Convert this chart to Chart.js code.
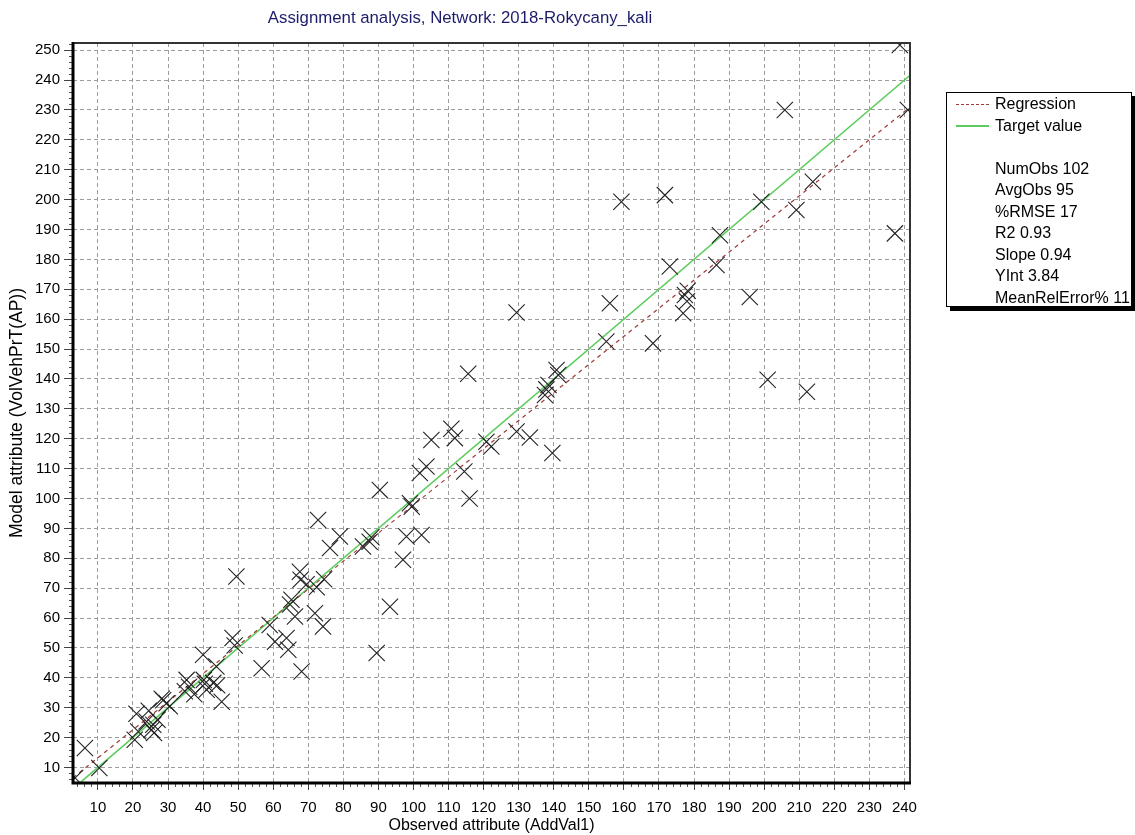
<!DOCTYPE html>
<html>
<head>
<meta charset="utf-8">
<script src="https://cdn.jsdelivr.net/npm/chart.js@4.4.1/dist/chart.umd.min.js"></script>
<style>
  html, body { margin: 0; padding: 0; background: #fff; }
  #wrap { position: relative; width: 1135px; height: 835px; overflow: hidden; }
  #c { position: absolute; left: 0; top: 0; }
  #legend {
    position: absolute; left: 946px; top: 92px; width: 186px; height: 215px;
    border: 1px solid #000; box-shadow: 4px 4px 0 #000; background: #fff;
    font-family: "Liberation Sans", Arial, sans-serif; font-size: 16px; color: #000;
    box-sizing: border-box;
  }
  #legend .row { height: 21.5px; line-height: 21.5px; white-space: nowrap; position: relative; padding-left: 48px; }
  #legend .sample { position: absolute; left: 9px; top: 11px; width: 33px; height: 0; }
  #legend .dash { border-top: 1.5px dashed #a03a3a; }
  #legend .solid { border-top: 2px solid #5ccc5c; top: 10px; }
</style>
</head>
<body>
<div id="wrap">
  <canvas id="c" width="1135" height="835"></canvas>
  <div id="legend"></div>
</div>
<script>
// ---- data ----
const observed = [3.5, 6.3, 10.4, 20.5, 21, 21.5, 23.9, 24.5, 25.3, 25.8, 26, 27, 28.2, 28.6, 29.6, 30.5,
  34.8, 35.3, 36, 37.5, 40, 40.2, 40.5, 41, 42.9, 43.8, 44, 45.3, 48.4, 49, 49.5, 56.7, 59, 60.5, 63.8, 64.3,
  68.1, 66.2, 65.2, 64.8, 67.6, 67.8, 69.5, 71.9, 72.4, 74.5, 74.2, 72.8, 79, 76.2, 85.6, 87.5, 88, 89.5, 93.3,
  97, 98, 102.3, 99, 99.5, 90.4, 101.8, 103.7, 105.1, 110.8, 111.8, 114.5, 116, 115.6, 120.8, 122.2, 129.4, 129.4,
  133.2, 139.6, 137.5, 137.9, 138.5, 140.8, 141.3, 155, 156, 159.3, 168.3, 171.7, 173.1, 176.9, 177.4, 178.2,
  186.4, 187.4, 195.9, 199.2, 201, 205.9, 209.2, 212.2, 213.9, 237.3, 238.7, 241, 178];
const modeled = [6.5, 16.5, 9.8, 19.3, 28, 22, 25.4, 29, 22.6, 24.3, 21.5, 26, 33, 32.5, 31.5, 30.5,
  35.5, 39.3, 37, 34.5, 47.7, 39.3, 38, 36, 38.3, 43.8, 37.5, 32, 53.3, 50.8, 73.9, 43.2, 57.7, 52.1, 53.3, 49.4,
  42.1, 60.5, 66.1, 64.5, 75.5, 72.8, 71.3, 61.6, 70.3, 73, 57.2, 92.8, 87.3, 83.4, 83.9, 85.5, 87, 48.3, 63.8,
  79.5, 87.3, 87.8, 98.4, 97.2, 102.8, 108.5, 110.7, 119.6, 123.3, 120.2, 109, 100, 141.7, 119, 117.4, 122.4, 162.2,
  120.4, 115.2, 134.6, 136.5, 138, 143, 141.3, 152.5, 165.3, 199.3, 151.9, 201.5, 177.6, 162, 168.1, 169.5,
  178.1, 188.1, 167.4, 199.3, 139.7, 230, 196.5, 135.7, 206, 188.7, 251.7, 230, 166];
const xTickValues = [10, 20, 30, 40, 50, 60, 70, 80, 90, 100, 110, 120, 130, 140, 150, 160, 170, 180, 190, 200, 210, 220, 230, 240];
const yTickValues = [10, 20, 30, 40, 50, 60, 70, 80, 90, 100, 110, 120, 130, 140, 150, 160, 170, 180, 190, 200, 210, 220, 230, 240, 250];
const xRange = [2.9, 241.6];
const yRange = [4.8, 252.4];
const regSlope = 0.94;
const regIntercept = 3.84;
const legendSeries = ['Regression', 'Target value'];
const statNames = ['NumObs', 'AvgObs', '%RMSE', 'R2', 'Slope', 'YInt', 'MeanRelError%'];
const statValues = ['102', '95', '17', '0.93', '0.94', '3.84', '11'];
const chartTitle = 'Assignment analysis, Network: 2018-Rokycany_kali';
const xTitle = 'Observed attribute (AddVal1)';
const yTitle = 'Model attribute (VolVehPrT(AP))';

// ---- legend box (HTML text) ----
const FONT = '"Liberation Sans", Arial, sans-serif';
const lg = document.getElementById('legend');
let html = '';
html += '<div class="row"><span class="sample dash"></span>' + legendSeries[0] + '</div>';
html += '<div class="row"><span class="sample solid"></span>' + legendSeries[1] + '</div>';
html += '<div class="row"></div>';
statNames.forEach((n, i) => { html += '<div class="row">' + n + ' ' + statValues[i] + '</div>'; });
lg.innerHTML = html;

// ---- datasets ----
const points = observed.map((x, i) => ({ x: x, y: modeled[i] }));
const targetLine = [{ x: xRange[0], y: xRange[0] }, { x: xRange[1], y: xRange[1] }];
const regLine = [
  { x: xRange[0], y: regSlope * xRange[0] + regIntercept },
  { x: xRange[1], y: regSlope * xRange[1] + regIntercept }
];

const framePlugin = {
  id: 'frame',
  afterDraw(chart) {
    const { ctx, chartArea: a, scales } = chart;
    ctx.save();
    // minor ticks
    ctx.strokeStyle = '#555';
    ctx.lineWidth = 1;
    ctx.beginPath();
    for (let v = 4; v <= xRange[1]; v += 2) {
      if (v % 10 === 0) continue;
      const px = Math.round(scales.x.getPixelForValue(v)) + 0.5;
      ctx.moveTo(px, a.bottom); ctx.lineTo(px, a.bottom + 4);
    }
    for (let v = 6; v <= yRange[1]; v += 2) {
      if (v % 10 === 0) continue;
      const py = Math.round(scales.y.getPixelForValue(v)) + 0.5;
      ctx.moveTo(a.left - 4, py); ctx.lineTo(a.left, py);
    }
    ctx.stroke();
    // frame
    ctx.strokeStyle = '#333';
    ctx.lineWidth = 2;
    ctx.beginPath();
    ctx.moveTo(a.left, a.top); ctx.lineTo(a.right, a.top); ctx.lineTo(a.right, a.bottom);
    ctx.stroke();
    ctx.strokeStyle = '#000';
    ctx.lineWidth = 3;
    ctx.beginPath();
    ctx.moveTo(a.left, a.top - 1); ctx.lineTo(a.left, a.bottom); ctx.lineTo(a.right + 1, a.bottom);
    ctx.stroke();
    // title
    ctx.fillStyle = '#1c1c6a';
    ctx.font = '16.8px ' + FONT;
    ctx.textAlign = 'center';
    ctx.textBaseline = 'middle';
    ctx.fillText(chartTitle, 460, 18);
    ctx.restore();
  }
};

const tickFont = { family: FONT, size: 15 };
const xTitleFont = { family: FONT, size: 16 };
const yTitleFont = { family: FONT, size: 17.5 };

new Chart(document.getElementById('c'), {
  type: 'scatter',
  data: {
    datasets: [
      {
        label: 'Observations', data: points, order: 0,
        pointStyle: 'crossRot', pointRadius: 11.5, pointBorderWidth: 1.1,
        borderColor: '#222', backgroundColor: '#222', showLine: false
      },
      {
        label: legendSeries[0], data: regLine, type: 'line', order: 1,
        borderColor: '#a03a3a', borderWidth: 1.2, borderDash: [4, 4], pointRadius: 0, fill: false
      },
      {
        label: legendSeries[1], data: targetLine, type: 'line', order: 2,
        borderColor: '#5ccc5c', borderWidth: 1.6, pointRadius: 0, fill: false
      }
    ]
  },
  options: {
    responsive: false,
    animation: false,
    events: [],
    layout: { padding: { left: 0, right: 225, top: 43, bottom: 0 } },
    plugins: { legend: { display: false }, tooltip: { enabled: false }, title: { display: false } },
    scales: {
      x: {
        type: 'linear', min: xRange[0], max: xRange[1],
        afterBuildTicks: s => { s.ticks = xTickValues.map(v => ({ value: v })); },
        afterFit: s => { s.height = 52; },
        grid: { color: '#9c9c9c', lineWidth: 1, drawTicks: true, tickLength: 7, tickColor: '#444', tickBorderDash: [], tickWidth: 1 },
        border: { display: false, dash: [4, 3] },
        ticks: { color: '#000', font: tickFont, padding: 9, maxRotation: 0, autoSkip: false },
        title: { display: true, text: xTitle, color: '#000', font: xTitleFont, padding: { top: 0, bottom: 0 } }
      },
      y: {
        type: 'linear', min: yRange[0], max: yRange[1],
        afterBuildTicks: s => { s.ticks = yTickValues.map(v => ({ value: v })); },
        afterFit: s => { s.width = 73; },
        grid: { color: '#9c9c9c', lineWidth: 1, drawTicks: true, tickLength: 9, tickColor: '#444', tickBorderDash: [], tickWidth: 1 },
        border: { display: false, dash: [4, 3] },
        ticks: { color: '#000', font: tickFont, padding: 4, autoSkip: false },
        title: { display: true, text: yTitle, color: '#000', font: yTitleFont, padding: { top: 7, bottom: 0 } }
      }
    }
  },
  plugins: [framePlugin]
});
</script>
</body>
</html>
